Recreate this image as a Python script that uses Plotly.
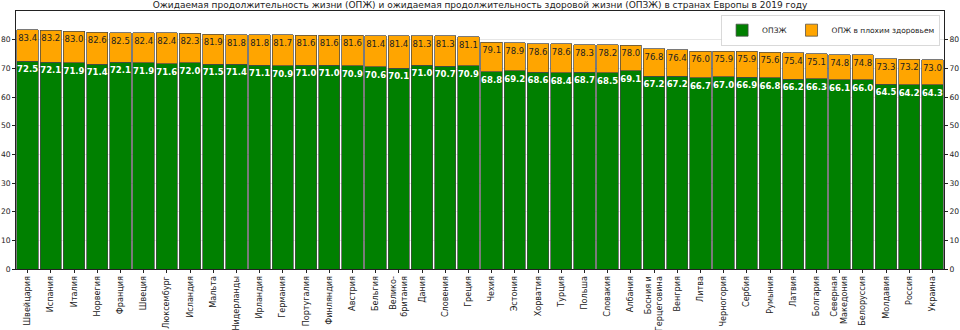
import plotly.graph_objects as go

countries = ["Швейцария", "Испания", "Италия", "Норвегия", "Франция", "Швеция", "Люксембург",
             "Исландия", "Мальта", "Нидерланды", "Ирландия", "Германия", "Португалия", "Финляндия",
             "Австрия", "Бельгия", "Велико-<br>британия", "Дания", "Словения", "Греция",
             "Чехия", "Эстония", "Хорватия", "Турция", "Польша", "Словакия", "Албания",
             "Босния и<br>Герцеговина", "Венгрия", "Литва", "Черногория", "Сербия", "Румыния",
             "Латвия", "Болгария", "Северная<br>Македония", "Белоруссия", "Молдавия", "Россия", "Украина"]

total = [83.4, 83.2, 83.0, 82.6, 82.5, 82.4, 82.4, 82.3, 81.9, 81.8, 81.8, 81.7, 81.6, 81.6,
         81.6, 81.4, 81.4, 81.3, 81.3, 81.1, 79.1, 78.9, 78.6, 78.6, 78.3, 78.2, 78.0, 76.8,
         76.4, 76.0, 75.9, 75.9, 75.6, 75.4, 75.1, 74.8, 74.8, 73.3, 73.2, 73.0]

healthy = [72.5, 72.1, 71.9, 71.4, 72.1, 71.9, 71.6, 72.0, 71.5, 71.4, 71.1, 70.9, 71.0, 71.0,
           70.9, 70.6, 70.1, 71.0, 70.7, 70.9, 68.8, 69.2, 68.6, 68.4, 68.7, 68.5, 69.1, 67.2,
           67.2, 66.7, 67.0, 66.9, 66.8, 66.2, 66.3, 66.1, 66.0, 64.5, 64.2, 64.3]

unhealthy = [round(t - h, 1) for t, h in zip(total, healthy)]

yticks = [0, 10, 20, 30, 40, 50, 60, 70, 80]

FONT = "DejaVu Sans"

fig = go.Figure()
fig.add_trace(go.Bar(
    x=countries, y=healthy, name="ОПЗЖ",
    marker=dict(color="#008000", line=dict(color="rgba(70,70,70,0.9)", width=0.8)),
    text=[f"{v:.1f}" for v in healthy], textposition="inside", insidetextanchor="end",
    constraintext="none", textangle=0,
    textfont=dict(family=FONT, size=8.5, color="white", weight="bold"),
    hoverinfo="skip",
))
fig.add_trace(go.Bar(
    x=countries, y=unhealthy, name="ОПЖ в плохим здоровьем",
    marker=dict(color="#FFA500", line=dict(color="rgba(70,70,70,0.9)", width=0.8)),
    text=[f"{v:.1f}" for v in total], textposition="inside", insidetextanchor="end",
    constraintext="none", textangle=0,
    textfont=dict(family=FONT, size=8.5, color="#222222"),
    hoverinfo="skip",
))
fig.add_trace(go.Scatter(
    x=countries[:1], y=[0], yaxis="y2", mode="markers",
    marker=dict(opacity=0), showlegend=False, hoverinfo="skip",
))

axis_common = dict(
    showline=True, linecolor="#222222", linewidth=0.8, automargin=False,
    ticks="outside", ticklen=3, tickwidth=0.8, tickcolor="#222222",
    tickfont=dict(family=FONT, size=7.6, color="#222222"),
)

fig.update_layout(
    width=960, height=330,
    margin=dict(l=16, r=16, t=11, b=61),
    paper_bgcolor="white", plot_bgcolor="white",
    barmode="stack", bargap=0.08,
    font=dict(family=FONT, color="#222222"),
    title=dict(
        text="Ожидаемая продолжительность жизни (ОПЖ) и ожидаемая продолжительность здоровой жизни (ОПЗЖ) в странах Европы в 2019 году",
        x=0.5, xanchor="center", y=0.985, yanchor="middle",
        font=dict(family=FONT, size=9, color="#222222"),
    ),
    xaxis=dict(
        **{**axis_common, "tickfont": dict(family=FONT, size=8.1, color="#222222")},
        mirror=True, range=[-0.5, len(countries) - 0.5],
        tickangle=-90, showgrid=False,
    ),
    yaxis=dict(
        **axis_common, range=[0, 90], tickvals=yticks, showgrid=True,
        gridcolor="#e6e6e6", gridwidth=0.8, zeroline=False,
    ),
    yaxis2=dict(
        **axis_common, overlaying="y", side="right", matches="y",
        tickvals=yticks, showgrid=False, zeroline=False,
    ),
    legend=dict(
        orientation="h", x=0.996, xanchor="right", y=0.985, yanchor="top",
        bgcolor="white", bordercolor="#d0d0d0", borderwidth=0.8,
        font=dict(family=FONT, size=7.5, color="#222222"),
        traceorder="normal", itemwidth=30, tracegroupgap=0,
    ),
    showlegend=True,
)

fig.write_html("out.html")
